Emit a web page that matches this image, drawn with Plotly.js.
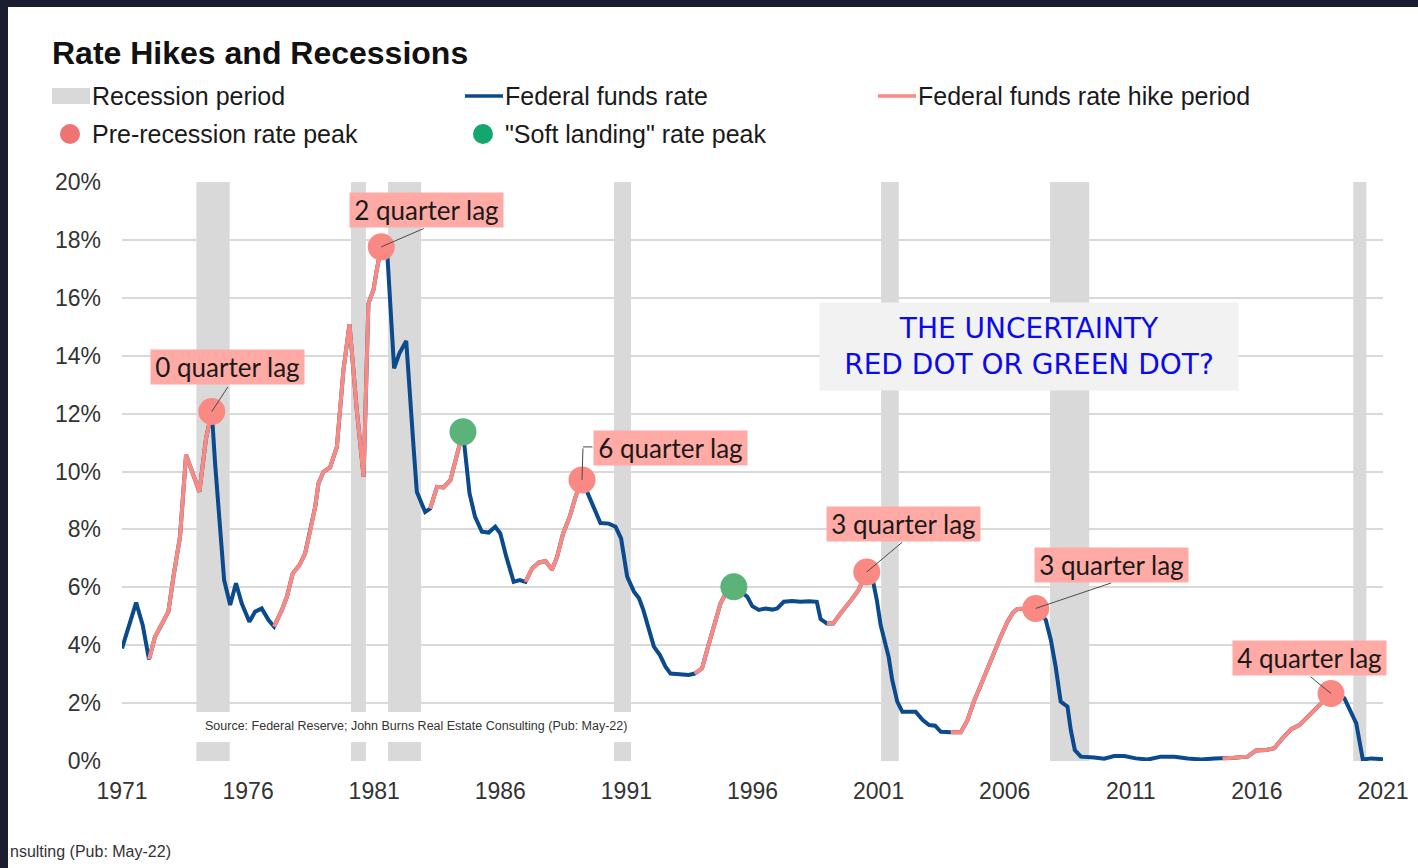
<!DOCTYPE html>
<html><head><meta charset="utf-8">
<script src="https://cdn.plot.ly/plotly-3.0.1.min.js"></script>
<style>html,body{margin:0;padding:0;background:#fff;overflow:hidden}#chart{width:1418px;height:868px}</style>
</head><body><div id="chart"></div>
<script>
// ---- Data (decimal years, percent) ----
const dates = [
  1971.00,1971.56,1971.82,1972.07,1972.31,1972.55,1972.84,1973.04,1973.30,1973.54,
  1974.07,1974.33,1974.56,1974.69,1974.86,1975.05,1975.29,1975.52,1975.75,1976.05,
  1976.28,1976.54,1976.81,1977.03,1977.34,1977.54,1977.77,1978.04,1978.26,1978.43,
  1978.66,1978.79,1978.99,1979.25,1979.52,1979.78,1980.02,1980.31,1980.58,1980.77,
  1980.97,1981.10,1981.28,1981.53,1981.63,1981.79,1982.00,1982.27,1982.56,1982.69,
  1983.02,1983.22,1983.49,1983.75,1984.02,1984.28,1984.52,1984.78,1985.00,1985.27,
  1985.54,1985.80,1986.00,1986.24,1986.53,1986.77,1987.00,1987.26,1987.52,1987.79,
  1988.05,1988.25,1988.49,1988.75,1988.98,1989.24,1989.50,1989.74,1989.97,1990.30,
  1990.57,1990.79,1990.90,1991.03,1991.30,1991.50,1991.67,1991.89,1992.09,1992.33,
  1992.55,1992.75,1993.01,1993.27,1993.47,1993.71,1994.00,1994.20,1994.46,1994.73,
  1995.00,1995.26,1995.79,1995.99,1996.25,1996.52,1996.79,1996.98,1997.24,1997.57,
  1997.90,1998.25,1998.55,1998.70,1998.95,1999.20,1999.45,1999.70,1999.95,2000.20,
  2000.53,2000.77,2000.93,2001.08,2001.24,2001.40,2001.54,2001.74,2001.94,2002.47,
  2002.74,2003.00,2003.24,2003.47,2003.86,2004.26,2004.52,2004.79,2005.05,2005.31,
  2005.58,2005.84,2006.11,2006.31,2006.50,2006.74,2007.23,2007.63,2007.83,2008.02,
  2008.22,2008.49,2008.62,2008.78,2009.02,2009.55,2009.94,2010.34,2010.74,2011.20,
  2011.67,2012.20,2012.73,2013.26,2013.79,2014.32,2014.64,2015.10,2015.63,2015.96,
  2016.36,2016.69,2016.96,2017.35,2017.68,2018.02,2018.35,2018.60,2018.94,2019.47,
  2019.74,2019.94,2020.07,2020.20,2020.53,2021.00
];
const rates = [
  3.89,5.47,4.70,3.51,4.29,4.70,5.16,6.37,7.75,10.57,
  9.30,11.14,12.07,10.29,8.21,6.25,5.39,6.14,5.44,4.81,
  5.16,5.27,4.87,4.64,5.22,5.68,6.48,6.77,7.17,7.81,
  8.78,9.59,9.99,10.14,10.85,13.50,15.09,12.12,9.82,15.81,
  16.27,16.96,17.76,17.36,15.80,13.56,14.08,14.51,10.85,9.30,
  8.60,8.72,9.47,9.45,9.70,10.57,11.37,9.24,8.43,7.92,
  7.89,8.09,7.86,7.05,6.19,6.25,6.19,6.65,6.85,6.91,
  6.61,7.05,7.86,8.43,9.12,9.71,9.19,8.72,8.22,8.20,
  8.09,7.69,7.17,6.37,5.85,5.62,5.22,4.53,3.95,3.66,
  3.26,3.02,3.00,3.00,2.97,3.02,3.20,3.83,4.64,5.44,
  5.90,6.02,5.68,5.35,5.22,5.27,5.23,5.27,5.50,5.53,
  5.50,5.52,5.50,4.90,4.75,4.75,5.05,5.30,5.60,5.90,
  6.53,6.25,5.56,4.70,4.18,3.59,2.80,2.05,1.70,1.70,
  1.42,1.24,1.22,1.01,0.99,0.99,1.40,2.08,2.62,3.20,
  3.72,4.29,4.81,5.10,5.25,5.25,5.27,4.87,4.18,3.26,
  2.05,1.88,1.07,0.38,0.15,0.12,0.08,0.17,0.17,0.09,
  0.05,0.15,0.15,0.09,0.05,0.09,0.09,0.11,0.15,0.36,
  0.38,0.44,0.73,1.09,1.24,1.53,1.81,2.01,2.33,2.16,
  1.64,1.30,0.67,0.05,0.09,0.06
];
const hikeStart = [1972.07, 1977.03, 1983.22, 1987.00, 1993.71, 1998.95, 2003.86, 2014.64];
const hikeEnd   = [1974.56, 1981.28, 1984.52, 1989.24, 1995.26, 2000.53, 2007.23, 2018.94];
const recessionStart = [1973.95, 1980.08, 1981.55, 1990.51, 2001.10, 2007.80, 2019.82];
const recessionEnd   = [1975.27, 1980.67, 1982.86, 1991.18, 2001.80, 2009.35, 2020.34];
const recessionTop = [20, 20, 20, 20, 20, 20, 20];
const redPeakDates = [1974.56, 1981.28, 1989.24, 2000.53, 2007.23, 2018.94];
const redPeakRates = [12.07, 17.76, 9.71, 6.53, 5.27, 2.33];
const greenPeakDates = [1984.52, 1995.26];
const greenPeakRates = [11.37, 6.02];
const lagLabels = ['0 quarter lag', '2 quarter lag', '6 quarter lag', '3 quarter lag', '3 quarter lag', '4 quarter lag'];
const xTickVals = [1971, 1976, 1981, 1986, 1991, 1996, 2001, 2006, 2011, 2016, 2021];
const xTickText = ['1971', '1976', '1981', '1986', '1991', '1996', '2001', '2006', '2011', '2016', '2021'];
const yTickVals = [0, 2, 4, 6, 8, 10, 12, 14, 16, 18, 20];
const yTickText = ['0%', '2%', '4%', '6%', '8%', '10%', '12%', '14%', '16%', '18%', '20%'];

// ---- Styling / positioning (pixels) ----
const W = 1418, H = 868, L = 122, R = 35, T = 182, B = 107;
const PW = W - L - R, PH = H - T - B;
const px = x => (x - L) / PW;
const py = y => (H - B - y) / PH;
const BLUE = '#0b4a8c', PINK = '#f98a83', GRAY = '#d9d9d9';
const SANS = 'Liberation Sans, Arial, sans-serif';
const LABELF = 'Lato, Liberation Sans, sans-serif';
// label box offsets from its dot [xshift, yshift] and connector tails [ax, ay]
const boxShift = [[16, 45], [45, 37], [88, 32], [37, 48], [76, 43], [-22, 36]];
const tailOff = [[17, -26], [44, -19], [1, -33], [37, -31], [77, -26], [-22, -18]];

const inHike = d => hikeStart.some((s, i) => d >= s - 1e-9 && d <= hikeEnd[i] + 1e-9);
const pinkRates = rates.map((r, i) => inHike(dates[i]) ? r : null);

const traces = [
  { type: 'bar', x: recessionStart.map((s, i) => (s + recessionEnd[i]) / 2),
    width: recessionStart.map((s, i) => recessionEnd[i] - s),
    y: recessionTop, base: 0, marker: { color: GRAY, line: { width: 0 } },
    showlegend: false, hoverinfo: 'skip' },
  { type: 'scatter', mode: 'lines', x: dates, y: rates,
    line: { color: BLUE, width: 4 }, showlegend: false, hoverinfo: 'skip' },
  { type: 'scatter', mode: 'lines', x: dates, y: pinkRates, connectgaps: false,
    line: { color: PINK, width: 4 }, showlegend: false, hoverinfo: 'skip' },
  { type: 'scatter', mode: 'markers', x: redPeakDates, y: redPeakRates,
    marker: { color: '#fa8984', size: 27 }, showlegend: false, hoverinfo: 'skip', cliponaxis: false },
  { type: 'scatter', mode: 'markers', x: greenPeakDates, y: greenPeakRates,
    marker: { color: '#5cb37a', size: 27 }, showlegend: false, hoverinfo: 'skip', cliponaxis: false }
];

const annotations = [];
const shapes = [];

// lag labels with connectors
lagLabels.forEach((txt, i) => {
  annotations.push({ x: redPeakDates[i], y: redPeakRates[i], xref: 'x', yref: 'y',
    text: '', showarrow: true, arrowhead: 0, arrowwidth: 1, arrowcolor: '#4a4a4a',
    ax: tailOff[i][0], ay: tailOff[i][1], standoff: 0 });
  annotations.push({ x: redPeakDates[i], y: redPeakRates[i], xref: 'x', yref: 'y',
    xanchor: 'center', yanchor: 'middle',
    xshift: boxShift[i][0], yshift: boxShift[i][1], text: txt, showarrow: false,
    bgcolor: '#ffaaa5', width: 149, height: 30, borderpad: 2,
    font: { family: LABELF, size: 26, color: '#1a1a1a' } });
});
// hook of the bent connector for the "6 quarter lag" label
annotations.push({ x: redPeakDates[2], y: redPeakRates[2], xref: 'x', yref: 'y',
  xshift: 1, yshift: 33, text: '', showarrow: true, arrowhead: 0, arrowwidth: 1,
  arrowcolor: '#4a4a4a', ax: 11, ay: 0, standoff: 0 });

// uncertainty box
annotations.push({ x: px(1029), y: py(346.5), xref: 'paper', yref: 'paper',
  xanchor: 'center', yanchor: 'middle',
  text: 'THE UNCERTAINTY<br>RED DOT OR GREEN DOT?', showarrow: false,
  bgcolor: '#f2f2f2', width: 414, height: 83, borderpad: 2,
  font: { family: 'DejaVu Sans, Verdana, sans-serif', size: 28, color: '#0a0af0' } });

// source box
shapes.push({ type: 'rect', xref: 'paper', yref: 'paper', x0: px(193), x1: px(640), y0: py(742), y1: py(712),
  fillcolor: '#ffffff', line: { width: 0 }, layer: 'above' });
annotations.push({ x: px(203), y: py(726), xref: 'paper', yref: 'paper', xanchor: 'left', yanchor: 'middle',
  text: 'Source: Federal Reserve; John Burns Real Estate Consulting (Pub: May-22)', showarrow: false,
  font: { family: SANS, size: 12.5, color: '#333333' } });

// cropped remnant text at the bottom-left
annotations.push({ x: px(8), y: py(851), xref: 'paper', yref: 'paper', xanchor: 'left', yanchor: 'middle',
  text: 'nsulting (Pub: May-22)', showarrow: false,
  font: { family: SANS, size: 16, color: '#333333' } });

// manual legend
shapes.push({ type: 'rect', xref: 'paper', yref: 'paper', x0: px(52), x1: px(90), y0: py(104), y1: py(88),
  fillcolor: GRAY, line: { width: 0 } });
shapes.push({ type: 'line', xref: 'paper', yref: 'paper', x0: px(465), x1: px(503), y0: py(96), y1: py(96),
  line: { color: BLUE, width: 3.5 } });
shapes.push({ type: 'line', xref: 'paper', yref: 'paper', x0: px(878), x1: px(916), y0: py(96), y1: py(96),
  line: { color: PINK, width: 3.5 } });
shapes.push({ type: 'circle', xref: 'paper', yref: 'paper', x0: px(60), x1: px(80), y0: py(144), y1: py(124),
  fillcolor: '#ef7373', line: { width: 0 } });
shapes.push({ type: 'circle', xref: 'paper', yref: 'paper', x0: px(473), x1: px(493), y0: py(144), y1: py(124),
  fillcolor: '#13a76d', line: { width: 0 } });
[['Recession period', 90, 96], ['Federal funds rate', 503, 96], ['Federal funds rate hike period', 916, 96],
 ['Pre-recession rate peak', 90, 134], ['"Soft landing" rate peak', 503, 134]].forEach(([t, x, y]) => {
  annotations.push({ x: px(x), y: py(y), xref: 'paper', yref: 'paper', xanchor: 'left', yanchor: 'middle',
    text: t, showarrow: false, font: { family: SANS, size: 25, color: '#1a1a1a' } });
});

// dark frame strips
shapes.push({ type: 'rect', xref: 'paper', yref: 'paper', x0: px(0), x1: px(8), y0: py(H), y1: py(0),
  fillcolor: '#1b1e31', line: { width: 0 }, layer: 'above' });
shapes.push({ type: 'rect', xref: 'paper', yref: 'paper', x0: px(0), x1: px(W), y0: py(7), y1: py(0),
  fillcolor: '#1b1e31', line: { width: 0 }, layer: 'above' });

const layout = {
  width: W, height: H,
  margin: { l: L, r: R, t: T, b: B, pad: 0 },
  paper_bgcolor: '#ffffff', plot_bgcolor: '#ffffff',
  title: { text: '<b>Rate Hikes and Recessions</b>', font: { family: SANS, size: 32, color: '#111111' },
    x: 52 / W, xref: 'container', xanchor: 'left', y: 1 - 53 / H, yref: 'container', yanchor: 'middle' },
  showlegend: false,
  barmode: 'overlay',
  xaxis: { range: [1971, 2021], tickvals: xTickVals, ticktext: xTickText, showgrid: false,
    zeroline: false, showline: false, ticks: '', ticklabelstandoff: 14,
    tickfont: { family: SANS, size: 23, color: '#333333' }, fixedrange: true },
  yaxis: { range: [0, 20], tickvals: yTickVals, ticktext: yTickText, showgrid: true,
    gridcolor: GRAY, gridwidth: 2, zeroline: false, showline: false, ticks: '', ticklabelstandoff: 20,
    tickfont: { family: SANS, size: 23, color: '#333333' }, fixedrange: true },
  annotations: annotations,
  shapes: shapes,
  hovermode: false
};

Plotly.newPlot('chart', traces, layout, { staticPlot: true, displayModeBar: false });
</script></body></html>
